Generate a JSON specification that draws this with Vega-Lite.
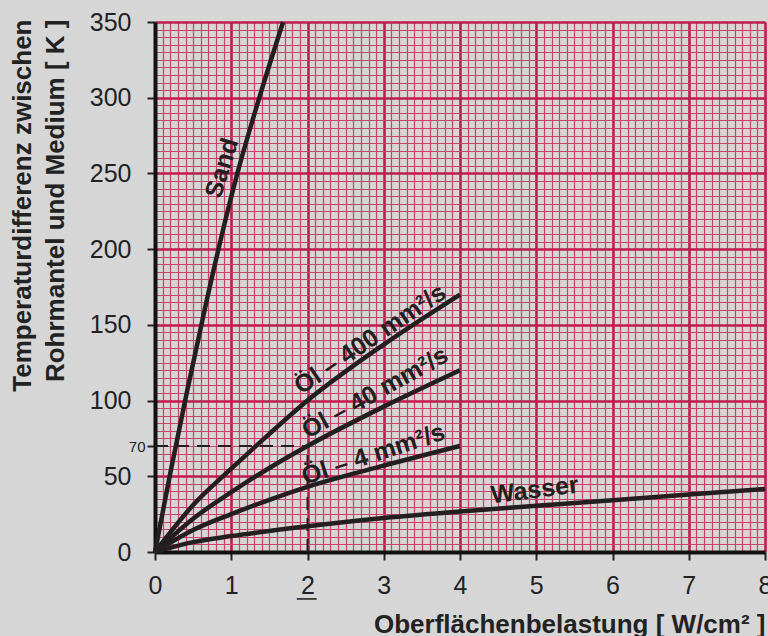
{
  "$schema": "https://vega.github.io/schema/vega-lite/v6.json",
  "width": 610,
  "height": 530,
  "autosize": {"type": "none"},
  "padding": {"left": 155, "top": 22, "right": 3, "bottom": 84},
  "background": "#d6d6d6",
  "config": {"view": {"stroke": null, "fill": "#d6d6d6"}, "font": "Liberation Sans"},
  "datasets": {
    "curves": [
      {"series": "Sand", "x": 0, "y": 0},
      {"series": "Sand", "x": 0.2, "y": 52},
      {"series": "Sand", "x": 0.42, "y": 106},
      {"series": "Sand", "x": 0.66, "y": 162},
      {"series": "Sand", "x": 0.87, "y": 208},
      {"series": "Sand", "x": 1.08, "y": 250},
      {"series": "Sand", "x": 1.38, "y": 302},
      {"series": "Sand", "x": 1.68, "y": 350},
      {"series": "Öl 400", "x": 0, "y": 0},
      {"series": "Öl 400", "x": 0.5, "y": 31},
      {"series": "Öl 400", "x": 1, "y": 55},
      {"series": "Öl 400", "x": 1.5, "y": 78},
      {"series": "Öl 400", "x": 2, "y": 100},
      {"series": "Öl 400", "x": 3, "y": 137},
      {"series": "Öl 400", "x": 4, "y": 170},
      {"series": "Öl 40", "x": 0, "y": 0},
      {"series": "Öl 40", "x": 0.5, "y": 22},
      {"series": "Öl 40", "x": 1, "y": 39.5},
      {"series": "Öl 40", "x": 1.5, "y": 55.5},
      {"series": "Öl 40", "x": 2, "y": 70},
      {"series": "Öl 40", "x": 3, "y": 96},
      {"series": "Öl 40", "x": 4, "y": 120},
      {"series": "Öl 4", "x": 0, "y": 0},
      {"series": "Öl 4", "x": 0.5, "y": 14.5},
      {"series": "Öl 4", "x": 1, "y": 25},
      {"series": "Öl 4", "x": 1.5, "y": 34.5},
      {"series": "Öl 4", "x": 2, "y": 43},
      {"series": "Öl 4", "x": 3, "y": 57},
      {"series": "Öl 4", "x": 4, "y": 70},
      {"series": "Wasser", "x": 0, "y": 0},
      {"series": "Wasser", "x": 0.5, "y": 6.5},
      {"series": "Wasser", "x": 1, "y": 10.5},
      {"series": "Wasser", "x": 2, "y": 17},
      {"series": "Wasser", "x": 3, "y": 22.5},
      {"series": "Wasser", "x": 4, "y": 26.8},
      {"series": "Wasser", "x": 5, "y": 30.5},
      {"series": "Wasser", "x": 6, "y": 34.2},
      {"series": "Wasser", "x": 7, "y": 38},
      {"series": "Wasser", "x": 8, "y": 41.6}
    ],
    "dashes": [
      {"x": 0, "y": 70, "xe": 2, "ye": 70},
      {"x": 2, "y": 0, "xe": 2, "ye": 70}
    ],
    "underline": [
      {"x": 1.86, "y": -31, "xe": 2.12, "ye": -31}
    ],
    "labels": [
      {"label": "Sand", "x": 0.876, "y": 253.6},
      {"label": "Öl – 400 mm²/s", "x": 2.82, "y": 140.6},
      {"label": "Öl – 40 mm²/s", "x": 2.885, "y": 105.3},
      {"label": "Öl – 4 mm²/s", "x": 2.863, "y": 64.6},
      {"label": "Wasser", "x": 4.98, "y": 41}
    ]
  },
  "encoding": {
    "x": {
      "field": "x",
      "type": "quantitative",
      "scale": {"domain": [0, 8], "nice": false, "zero": false},
      "axis": {
        "title": "Oberflächenbelastung [ W/cm² ]",
        "tickCount": 80,
        "grid": true,
        "gridColor": {"condition": {"test": "abs(datum.value - round(datum.value)) < 0.001", "value": "#c01a4e"}, "value": "#c8436a"},
        "gridWidth": {"condition": {"test": "abs(datum.value - round(datum.value)) < 0.001", "value": 2.6}, "value": 1.2},
        "gridOpacity": {"condition": {"test": "datum.value == 0", "value": 0}, "value": 1},
        "labelExpr": "abs(datum.value - round(datum.value)) < 0.001 ? '' + round(datum.value) : ''",
        "labelOverlap": false,
        "labelFlush": false,
        "labelBound": false,
        "labelFontSize": 25,
        "labelColor": "#222222",
        "labelPadding": 13,
        "tickOpacity": {"condition": {"test": "abs(datum.value - round(datum.value)) < 0.001", "value": 1}, "value": 0},
        "tickSize": 8,
        "tickWidth": 2,
        "tickColor": "#222222",
        "domainColor": "#111111",
        "domainWidth": 4,
        "titleFontSize": 26,
        "titleFontWeight": "bold",
        "titleColor": "#222222",
        "titleX": 610,
        "titleY": 80,
        "titleAlign": "right",
        "titleBaseline": "alphabetic"
      }
    },
    "y": {
      "field": "y",
      "type": "quantitative",
      "scale": {"domain": [0, 350], "nice": false, "zero": false},
      "axis": {
        "title": ["Temperaturdifferenz zwischen", "Rohrmantel und Medium [ K ]"],
        "tickCount": 70,
        "grid": true,
        "gridColor": {"condition": {"test": "datum.value % 50 == 0", "value": "#c01a4e"}, "value": "#c8436a"},
        "gridWidth": {"condition": {"test": "datum.value % 50 == 0", "value": 2.6}, "value": 1.2},
        "gridOpacity": {"condition": {"test": "datum.value == 0", "value": 0}, "value": 1},
        "labelExpr": "(datum.value % 50 == 0 || datum.value == 70) ? '' + datum.value : ''",
        "labelOverlap": false,
        "labelFlush": false,
        "labelBound": false,
        "labelFontSize": {"condition": {"test": "datum.value == 70", "value": 15}, "value": 25},
        "labelPadding": {"condition": {"test": "datum.value == 70", "value": 2}, "value": 16},
        "labelColor": "#222222",
        "tickOpacity": {"condition": {"test": "datum.value % 50 == 0 || datum.value == 70", "value": 1}, "value": 0},
        "tickSize": 8,
        "tickWidth": 2,
        "tickColor": "#222222",
        "domainColor": "#111111",
        "domainWidth": 4,
        "titleFontSize": 26,
        "titleFontWeight": "bold",
        "titleColor": "#222222",
        "titleAngle": -90,
        "titleX": -146,
        "titleY": -3,
        "titleAlign": "right",
        "titleBaseline": "top",
        "titleLineHeight": 33
      }
    }
  },
  "layer": [
    {
      "data": {"name": "dashes"},
      "mark": {"type": "rule", "color": "#231f20", "strokeWidth": 2, "strokeDash": [13, 8]},
      "encoding": {"x2": {"field": "xe"}, "y2": {"field": "ye"}}
    },
    {
      "data": {"name": "curves"},
      "mark": {"type": "line", "color": "#231f20", "strokeWidth": 4.5, "interpolate": "monotone"},
      "encoding": {"detail": {"field": "series", "type": "nominal"}}
    },
    {
      "data": {"name": "underline"},
      "mark": {"type": "rule", "color": "#222222", "strokeWidth": 1.6},
      "encoding": {"x2": {"field": "xe"}, "y2": {"field": "ye"}}
    },
    {
      "data": {"name": "labels"},
      "transform": [{"filter": "datum.label == 'Sand'"}],
      "mark": {"type": "text", "font": "Liberation Sans", "fontWeight": "bold", "fontSize": 25, "color": "#231f20", "angle": -73, "align": "center", "baseline": "middle"},
      "encoding": {"text": {"field": "label"}}
    },
    {
      "data": {"name": "labels"},
      "transform": [{"filter": "datum.label == 'Öl – 400 mm²/s'"}],
      "mark": {"type": "text", "font": "Liberation Sans", "fontWeight": "bold", "fontSize": 25, "color": "#231f20", "angle": -34, "align": "center", "baseline": "middle"},
      "encoding": {"text": {"field": "label"}}
    },
    {
      "data": {"name": "labels"},
      "transform": [{"filter": "datum.label == 'Öl – 40 mm²/s'"}],
      "mark": {"type": "text", "font": "Liberation Sans", "fontWeight": "bold", "fontSize": 25, "color": "#231f20", "angle": -29, "align": "center", "baseline": "middle"},
      "encoding": {"text": {"field": "label"}}
    },
    {
      "data": {"name": "labels"},
      "transform": [{"filter": "datum.label == 'Öl – 4 mm²/s'"}],
      "mark": {"type": "text", "font": "Liberation Sans", "fontWeight": "bold", "fontSize": 25, "color": "#231f20", "angle": -18, "align": "center", "baseline": "middle"},
      "encoding": {"text": {"field": "label"}}
    },
    {
      "data": {"name": "labels"},
      "transform": [{"filter": "datum.label == 'Wasser'"}],
      "mark": {"type": "text", "font": "Liberation Sans", "fontWeight": "bold", "fontSize": 25, "color": "#231f20", "angle": -7, "align": "center", "baseline": "middle"},
      "encoding": {"text": {"field": "label"}}
    }
  ]
}
